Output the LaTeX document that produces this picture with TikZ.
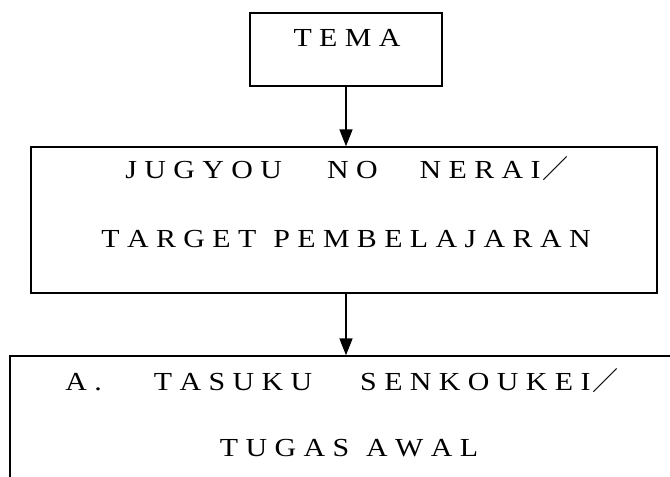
\documentclass[tikz,border=0pt]{standalone}
\usepackage{graphicx}
\usepackage{fontspec}
\setmainfont{Liberation Serif}
\newfontfamily\cjk{Noto Sans CJK JP}
\usetikzlibrary{arrows.meta}

% letter-spaced word of widened glyphs: a fixed kern after every glyph but the last
\newcommand\spread[1]{\spreadA#1\relax\unkern}
\def\spreadA#1{\ifx\relax#1\else\scalebox{1.15}[1]{#1}\kern7.4pt\expandafter\spreadA\fi}

\tikzset{
  frame/.style={draw, line width=1.4pt, inner sep=0pt, rectangle},
  caption/.style={inner sep=0pt, anchor=base, font=\fontsize{26}{30}\selectfont},
  flow/.style={line width=1.6pt, -{Triangle[width=13pt,length=17pt]}}
}

\begin{document}
\begin{tikzpicture}[x=1pt, y=-1pt]
  \useasboundingbox (0,0) rectangle (670,477);
  \clip (0,0) rectangle (670,477);

  % boxes
  \node[frame, minimum width=192pt, minimum height=73pt] (tema) at (346,49.5) {};
  \node[frame, minimum width=626pt, minimum height=146pt] (goal) at (344,220) {};
  \node[frame, minimum width=690pt, minimum height=164pt] (task) at (355,438) {};

  % texts
  \node[caption] (t1) at (347,46) {\spread{TEMA}};
  \node[caption] (t2) at (347,178) {\spread{JUGYOU}\hspace{45pt}\spread{NO}\hspace{42pt}\spread{NERAI}\kern2pt{\cjk ／}};
  \node[caption] (t3) at (346,247) {\spread{TARGET}\hspace{17pt}\spread{PEMBELAJARAN}};
  \node[caption] (t4) at (342,390) {\spread{A.}\hspace{52pt}\spread{TASUKU}\hspace{48pt}\spread{SENKOUKEI}\kern2pt{\cjk ／}};
  \node[caption] (t5) at (349,456) {\spread{TUGAS}\hspace{17pt}\spread{AWAL}};

  % connectors
  \draw[flow] (tema.south) -- (tema.south |- goal.north);
  \draw[flow] (tema.south |- goal.south) -- (tema.south |- task.north);
\end{tikzpicture}
\end{document}
